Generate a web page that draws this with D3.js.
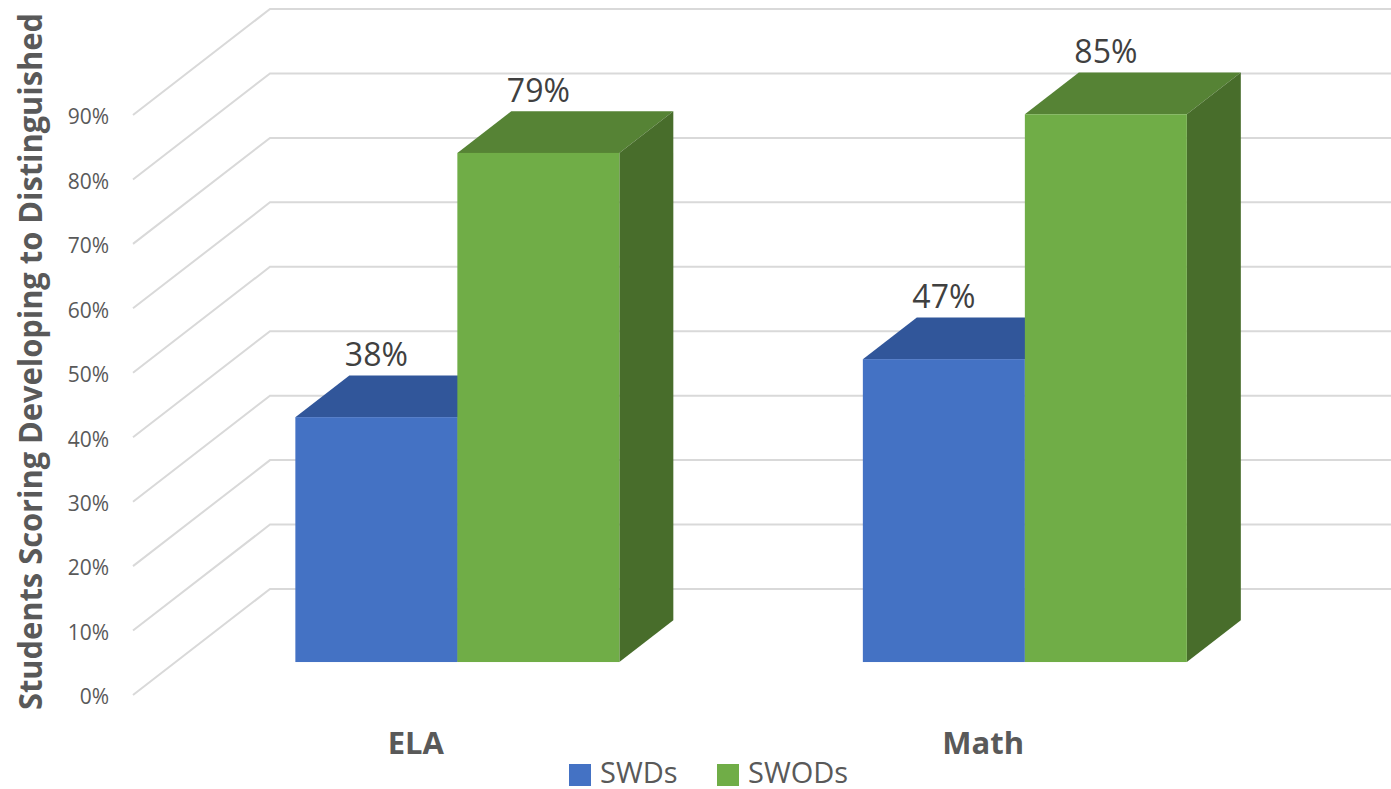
<!DOCTYPE html>
<html>
<head>
<meta charset="utf-8">
<script src="https://cdn.jsdelivr.net/npm/d3@7"></script>
<style>
  body { margin: 0; background: #fff; }
  svg { display: block; font-family: "Open Sans", sans-serif; }
</style>
</head>
<body>
<div id="chart"></div>
<script>
// ---- data ----
var categories = ["ELA", "Math"];
var seriesNames = ["SWDs", "SWODs"];
var swdValues = [38, 47];
var swodValues = [79, 85];
var tickValues = [0, 10, 20, 30, 40, 50, 60, 70, 80, 90];

var seriesValues = [swdValues, swodValues];

// colours per series: front, top, side
var frontColors = ["#4472C4", "#70AD47"];
var topColors = ["#31569A", "#568335"];
var sideColors = ["#2B4C87", "#486D2B"];

var w = 1391, h = 789;

var svg = d3.select("#chart").append("svg")
  .attr("width", w)
  .attr("height", h);

// front plane scales
var y = d3.scaleLinear().domain([0, 90]).range([695, 115]);
var x0 = d3.scaleBand().domain(categories).range([131, 1266]).padding(0);

// depth offset (oblique projection)
var depthX = 137, depthY = -106;
var z0 = 0.311, z1 = 0.705;
function proj(px, v, z) {
  return [px + z * depthX, y(v) + z * depthY];
}

// bars inside a category band
var groupFrac = 324 / 567.5;
var x1 = d3.scaleBand().domain(seriesNames)
  .range([0, x0.bandwidth() * groupFrac]);
var groupOffset = (x0.bandwidth() - x0.bandwidth() * groupFrac) / 2;

// ---- gridlines (side wall + back wall) ----
var wallLeft = 133;
var grid = svg.append("g").attr("class", "grid");
tickValues.forEach(function(t) {
  var a = proj(wallLeft, t, 0), b = proj(wallLeft, t, 1);
  grid.append("path")
    .attr("d", "M" + a[0] + "," + a[1] + "L" + b[0] + "," + b[1] + "L" + (w + 20) + "," + b[1])
    .attr("fill", "none")
    .attr("stroke", "#D9D9D9")
    .attr("stroke-width", 2);
});

// ---- y axis labels ----
var yAxis = d3.axisLeft(y)
  .tickValues(tickValues)
  .tickSize(0)
  .tickPadding(24)
  .tickFormat(function(d) { return d + "%"; });

var yg = svg.append("g")
  .attr("transform", "translate(" + wallLeft + ",0)")
  .call(yAxis);
yg.select(".domain").remove();
yg.selectAll("text")
  .attr("font-family", "Open Sans")
  .attr("font-size", 21)
  .attr("fill", "#595959")
  .attr("dy", "0.42em");

// ---- bars ----
function poly(pts) {
  return "M" + pts.map(function(p) { return p[0] + "," + p[1]; }).join("L") + "Z";
}

categories.forEach(function(cat, ci) {
  seriesNames.forEach(function(s, si) {
    var v = seriesValues[si][ci];
    var left = x0(cat) + groupOffset + x1(s);
    var right = left + x1.bandwidth();
    var g = svg.append("g");

    // top face
    g.append("path")
      .attr("d", poly([proj(left, v, z0), proj(right, v, z0), proj(right, v, z1), proj(left, v, z1)]))
      .attr("fill", topColors[si]);
    // right side face
    g.append("path")
      .attr("d", poly([proj(right, 0, z0), proj(right, v, z0), proj(right, v, z1), proj(right, 0, z1)]))
      .attr("fill", sideColors[si]);
    // front face
    var fl = proj(left, v, z0), fr = proj(right, 0, z0);
    g.append("rect")
      .attr("x", fl[0])
      .attr("y", fl[1])
      .attr("width", fr[0] - fl[0])
      .attr("height", fr[1] - fl[1])
      .attr("fill", frontColors[si]);
  });
});

// data labels
categories.forEach(function(cat, ci) {
  seriesNames.forEach(function(s, si) {
    var v = seriesValues[si][ci];
    var left = x0(cat) + groupOffset + x1(s);
    var p = proj(left + x1.bandwidth() / 2, v, z0);
    var back = proj(left, v, z1);
    svg.append("text")
      .attr("x", p[0])
      .attr("y", back[1] - 9)
      .attr("text-anchor", "middle")
      .attr("font-size", 32)
      .attr("fill", "#404040")
      .text(v + "%");
  });
});

// ---- category axis ----
var xAxis = d3.axisBottom(x0).tickSize(0).tickPadding(0);
var xg = svg.append("g")
  .attr("transform", "translate(1,754)")
  .call(xAxis);
xg.select(".domain").remove();
xg.selectAll("text")
  .attr("font-family", "Open Sans")
  .attr("font-size", 31)
  .attr("font-weight", "bold")
  .attr("fill", "#595959")
  .attr("dy", 0)
  .attr("y", 0);

// ---- y axis title ----
svg.append("text")
  .attr("transform", "translate(42,361.5) rotate(-90)")
  .attr("text-anchor", "middle")
  .attr("font-size", 32)
  .attr("font-weight", "bold")
  .attr("fill", "#595959")
  .attr("textLength", 697)
  .attr("lengthAdjust", "spacingAndGlyphs")
  .text("Students Scoring Developing to Distinguished");

// ---- legend ----
var legendX = [569, 717];
var legend = svg.append("g");
seriesNames.forEach(function(s, si) {
  legend.append("rect")
    .attr("x", legendX[si])
    .attr("y", 764)
    .attr("width", 22)
    .attr("height", 22)
    .attr("fill", frontColors[si]);
  legend.append("text")
    .attr("x", legendX[si] + 31)
    .attr("y", 783)
    .attr("font-size", 29)
    .attr("fill", "#595959")
    .text(s);
});
</script>
</body>
</html>
